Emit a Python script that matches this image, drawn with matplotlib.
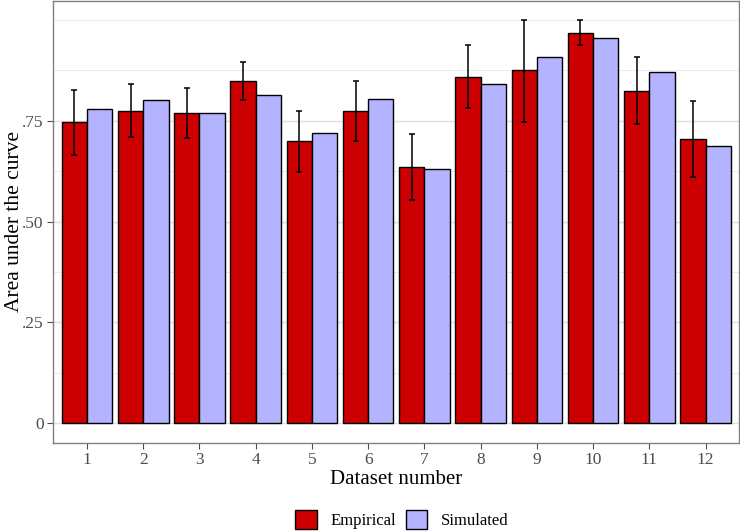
import matplotlib
matplotlib.use("Agg")
import matplotlib.pyplot as plt
import numpy as np
from matplotlib.patches import Patch

datasets = [1, 2, 3, 4, 5, 6, 7, 8, 9, 10, 11, 12]
empirical = [0.747, 0.775, 0.769, 0.849, 0.699, 0.774, 0.636, 0.859, 0.876, 0.968, 0.825, 0.705]
emp_low = [0.666, 0.709, 0.707, 0.801, 0.624, 0.701, 0.554, 0.781, 0.747, 0.937, 0.742, 0.611]
emp_high = [0.827, 0.841, 0.832, 0.896, 0.775, 0.848, 0.718, 0.938, 1.000, 1.000, 0.908, 0.800]
simulated = [0.780, 0.802, 0.770, 0.814, 0.720, 0.803, 0.630, 0.842, 0.908, 0.956, 0.870, 0.687]

y_ticks = [0, 0.25, 0.50, 0.75]
y_labels = ["0", ".25", ".50", ".75"]

plt.rcParams['font.family'] = ['Liberation Serif', 'DejaVu Serif']

fig = plt.figure(figsize=(7.4, 5.32), dpi=100)
ax = fig.add_axes([0.072, 0.168, 0.927, 0.830])

x = np.array(datasets)
w = 0.45
red = '#CC0000'
blue = '#B3B3FF'

# grid first
for g in [0.125, 0.375, 0.625, 0.875, 1.0]:
    ax.axhline(g, color='#ebebeb', lw=0.7, zorder=0)
for g in y_ticks:
    ax.axhline(g, color='#e0e0e0', lw=1.0, zorder=0)

ax.bar(x - w / 2, empirical, width=w, color=red, edgecolor='black', linewidth=1.0, zorder=2, label='Empirical')
ax.bar(x + w / 2, simulated, width=w, color=blue, edgecolor='black', linewidth=1.0, zorder=2, label='Simulated')

emp = np.array(empirical)
yerr = [emp - np.array(emp_low), np.array(emp_high) - emp]
ax.errorbar(x - w / 2, emp, yerr=yerr, fmt='none', ecolor='black', elinewidth=1.1, capsize=2.0, capthick=1.1, zorder=3)

ax.set_xlim(0.4, 12.6)
ax.set_ylim(-0.048, 1.047)
ax.set_xticks(datasets)
ax.set_xticklabels([str(d) for d in datasets])
ax.set_yticks(y_ticks)
ax.set_yticklabels(y_labels)
ax.tick_params(axis='both', colors='#4d4d4d', labelcolor='#4d4d4d', labelsize=12.5, length=4, width=0.8, pad=3)

for s in ax.spines.values():
    s.set_color('#808080')
    s.set_linewidth(1.0)

ax.set_xlabel('Dataset number', fontsize=15, color='black', labelpad=1)
ax.set_ylabel('Area under the curve', fontsize=15.5, color='black')
ax.yaxis.set_label_coords(-0.043, 0.5)

handles = [Patch(facecolor=red, edgecolor='black', linewidth=1.0, label='Empirical'),
           Patch(facecolor=blue, edgecolor='black', linewidth=1.0, label='Simulated')]
fig.legend(handles=handles, loc='center', bbox_to_anchor=(0.543, 0.024), ncol=2, frameon=False,
           fontsize=12, handlelength=1.3, handleheight=1.4, columnspacing=0.6, handletextpad=0.8)

fig.savefig('out.png', dpi=100)
